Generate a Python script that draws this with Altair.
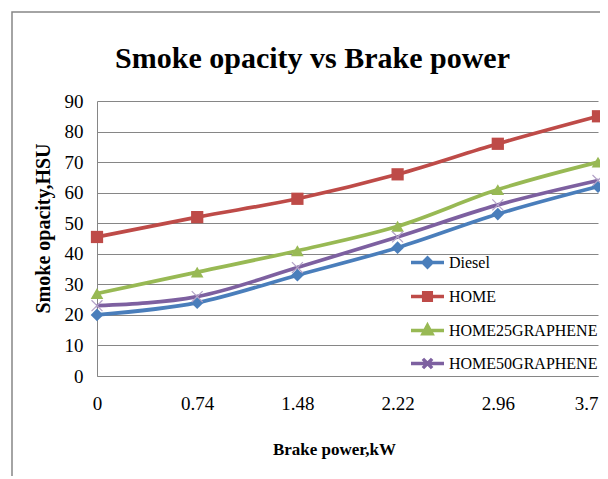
import altair as alt
import pandas as pd

brake_power = [0, 0.74, 1.48, 2.22, 2.96, 3.7]
diesel = [20, 24, 33, 42, 53, 62]
home = [45.5, 52, 58, 66, 76, 85]
home25 = [27, 34, 41, 49, 61, 70]
home50 = [23, 26, 35.5, 45.5, 56, 64]
series_names = ["Diesel", "HOME", "HOME25GRAPHENE", "HOME50GRAPHENE"]
y_ticks = [0, 10, 20, 30, 40, 50, 60, 70, 80, 90]

line_colors = ["#4A7EBB", "#BE4B48", "#98B954", "#7D60A0"]
x_marker_color = "#B3A2C7"
legend_paths = [
    "M-1,0L1,0M0,-0.27L0.27,0L0,0.27L-0.27,0Z",
    "M-1,0L1,0M-0.23,-0.23L0.23,-0.23L0.23,0.23L-0.23,0.23Z",
    "M-1,0L1,0M0,-0.3L0.27,0.2L-0.27,0.2Z",
    "M-1,0L1,0M-0.28,-0.28L0.28,0.28M0.28,-0.28L-0.28,0.28",
]

rows = []
for name, vals in zip(series_names, [diesel, home, home25, home50]):
    for xv, v in zip(brake_power, vals):
        rows.append({"bp": xv, "val": v, "series": name})
df = pd.DataFrame(rows)

FONT = "Liberation Serif"
GRAY = "#868686"

x_enc = alt.X(
    "bp:Q",
    scale=alt.Scale(domain=[0, 3.7], nice=False, zero=False),
    axis=alt.Axis(
        values=brake_power, format=".2~f", title="Brake power,kW", grid=False,
        ticks=False, domainColor=GRAY, domainWidth=1, labelPadding=18,
        labelFont=FONT, labelFontSize=19, labelColor="black", labelFlush=False,
        labelAlign={"condition": {"test": "datum.value > 3.6", "value": "right"}, "value": "center"},
        labelOverlap=False, titleFont=FONT, titleFontSize=17, titleFontWeight="bold",
        titleColor="black", titleX=237, titleY=78, titleBaseline="alphabetic",
        titleAlign="center",
    ),
)
y_enc = alt.Y(
    "val:Q",
    scale=alt.Scale(domain=[0, 90], nice=False),
    axis=alt.Axis(
        values=y_ticks, tickCount=10, format="d", title="Smoke opacity,HSU", grid=True,
        gridColor=GRAY, gridWidth=1, ticks=False, domainColor=GRAY, domainWidth=1,
        labelPadding=14, labelOverlap=False, labelFont=FONT, labelFontSize=19,
        labelColor="black", titleFont=FONT, titleFontSize=20, titleFontWeight="bold",
        titleColor="black", titleX=-54, titleY=127, titleAngle=270,
        titleBaseline="middle", titleAlign="center",
    ),
)

base = alt.Chart(df)
color_scale = alt.Scale(domain=series_names, range=line_colors)

leg = alt.Legend(
    orient="none", legendX=312, legendY=143, title=None, padding=0,
    symbolSize=1089, symbolStrokeWidth=3.5, symbolOpacity=1,
    labelFont=FONT, labelFontSize=16, labelColor="black", labelOffset=3,
    labelLimit=400, rowPadding=4,
)
legend_layer = base.mark_point(filled=False, size=1, strokeWidth=3.5, opacity=1).encode(
    x=x_enc, y=y_enc,
    color=alt.Color("series:N", scale=color_scale, legend=leg),
    fill=alt.Fill("series:N", scale=color_scale, legend=leg),
    shape=alt.Shape("series:N", scale=alt.Scale(domain=series_names, range=legend_paths), legend=leg),
)

lines = base.mark_line(interpolate="monotone", strokeWidth=3.7).encode(
    x=x_enc, y=y_enc,
    stroke=alt.Stroke("series:N", scale=color_scale, legend=None),
)

pts_diesel = base.transform_filter(alt.datum.series == "Diesel").mark_point(
    shape="diamond", filled=True, size=160, color=line_colors[0], opacity=1
).encode(x=x_enc, y=y_enc)
pts_home = base.transform_filter(alt.datum.series == "HOME").mark_point(
    shape="square", filled=True, size=150, color=line_colors[1], opacity=1
).encode(x=x_enc, y=y_enc)
pts_h25 = base.transform_filter(alt.datum.series == "HOME25GRAPHENE").mark_point(
    shape="triangle-up", filled=True, size=160, color=line_colors[2], opacity=1
).encode(x=x_enc, y=y_enc)
pts_h50 = base.transform_filter(alt.datum.series == "HOME50GRAPHENE").mark_point(
    shape="M-1,-1L1,1M1,-1L-1,1", filled=False, size=120, color=x_marker_color,
    strokeWidth=1.2, opacity=1
).encode(x=x_enc, y=y_enc)

border = alt.Chart(pd.DataFrame({"a": [0]})).mark_rect(
    fillOpacity=0, stroke=GRAY, strokeWidth=1.5
).encode(x=alt.value(-85), y=alt.value(-89), x2=alt.value(700), y2=alt.value(600))

chart = alt.layer(border, legend_layer, lines, pts_diesel, pts_home, pts_h25, pts_h50).properties(
    width=501, height=275,
    title=alt.Title("Smoke opacity vs Brake power", font=FONT, fontSize=30,
                    fontWeight="bold", color="black", anchor="middle", dx=-35, offset=-63),
    autosize=alt.AutoSizeParams(type="none"),
    padding={"left": 89, "top": 93, "right": 2, "bottom": 100},
    background="white",
).configure_view(stroke=None)

chart.save("out.html", embed_options={"renderer": "svg", "actions": False})
